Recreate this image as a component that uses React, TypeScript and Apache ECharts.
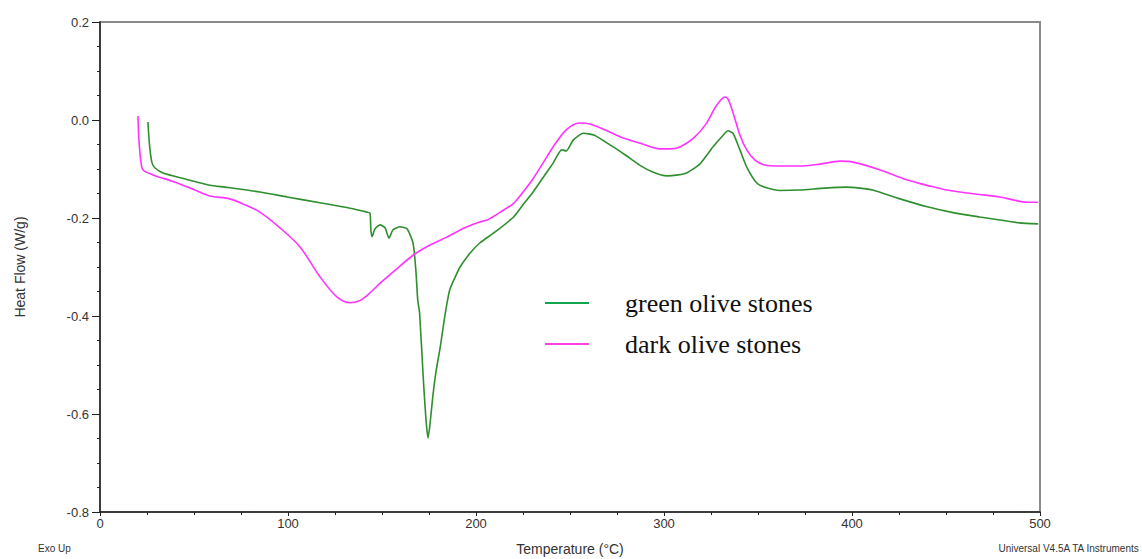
import React, { useEffect, useRef } from "react";
import * as echarts from "echarts";

const greenName = "green olive stones";
const pinkName = "dark olive stones";

const greenTemp = [25.5, 25.8, 26.6, 27.7, 29.3, 33.5, 45, 58.5, 66.5, 85, 99.5, 117, 133, 142, 143.6, 144.1, 144.7, 146.3, 149, 151.6, 153.7, 155.9, 159.6, 163.3, 166.5, 168, 169, 170, 172, 173.4, 174.5, 175.5, 177, 178.7, 181, 183.5, 186, 189, 191.5, 197, 202, 210, 220, 225, 230, 235.6, 241, 245.6, 248, 251.7, 257, 263, 273, 280, 287, 294, 301.5, 307.5, 312, 319, 326, 331, 334, 336.7, 340.4, 344, 349.5, 355, 361.7, 372, 385.6, 397, 404, 411, 425.5, 440, 455, 468, 478.7, 489, 499];
const greenHF = [-0.004, -0.024, -0.061, -0.088, -0.098, -0.108, -0.12, -0.133, -0.137, -0.147, -0.157, -0.169, -0.18, -0.188, -0.19, -0.225, -0.238, -0.222, -0.214, -0.22, -0.241, -0.224, -0.218, -0.222, -0.251, -0.306, -0.367, -0.394, -0.53, -0.612, -0.649, -0.622, -0.565, -0.514, -0.463, -0.398, -0.347, -0.32, -0.3, -0.271, -0.251, -0.229, -0.198, -0.173, -0.149, -0.118, -0.088, -0.061, -0.063, -0.041, -0.027, -0.031, -0.055, -0.073, -0.092, -0.106, -0.114, -0.112, -0.108, -0.09, -0.055, -0.033, -0.022, -0.027, -0.061, -0.096, -0.129, -0.139, -0.144, -0.143, -0.139, -0.137, -0.139, -0.143, -0.161, -0.177, -0.19, -0.198, -0.204, -0.21, -0.212];

const pinkTemp = [20.2, 20.7, 21.8, 22.9, 28.2, 40, 50.5, 58.5, 69, 77, 85, 95.7, 106.4, 117, 126, 133, 138, 143.6, 149, 156, 166.5, 175.5, 184.5, 194, 202, 206, 213, 220, 225, 230, 235.6, 241, 248, 255, 260.6, 268.6, 276.6, 287, 298, 303, 308.5, 315.7, 322, 328, 332.4, 334, 336.8, 340.4, 344, 348.4, 353.7, 361.7, 372, 383, 393.6, 400.5, 415, 429, 441.5, 450.5, 465.4, 478.7, 485.6, 493, 499];
const pinkHF = [0.008, -0.041, -0.086, -0.102, -0.112, -0.127, -0.143, -0.155, -0.161, -0.173, -0.188, -0.22, -0.259, -0.32, -0.361, -0.373, -0.369, -0.353, -0.333, -0.31, -0.276, -0.255, -0.239, -0.22, -0.208, -0.204, -0.188, -0.17, -0.147, -0.122, -0.088, -0.055, -0.02, -0.006, -0.008, -0.02, -0.034, -0.047, -0.059, -0.059, -0.055, -0.037, -0.01, 0.03, 0.047, 0.043, 0.014, -0.031, -0.061, -0.082, -0.092, -0.094, -0.094, -0.09, -0.084, -0.086, -0.102, -0.122, -0.135, -0.143, -0.151, -0.157, -0.163, -0.168, -0.168];

const xTicks = { min: 0, max: 500, interval: 100 };
const yTicks = { min: -0.8, max: 0.2, interval: 0.2 };

const greenColor = "#2f8f2f";
const pinkColor = "#ff33ff";

export default function App() {
  const ref = useRef<HTMLDivElement>(null);
  useEffect(() => {
    if (!ref.current) return;
    const chart = echarts.init(ref.current, null, { renderer: "svg" });
    const axisText = { color: "#333", fontFamily: "Liberation Sans, Arial, sans-serif", fontSize: 12 };
    chart.setOption({
      animation: false,
      backgroundColor: "#fff",
      grid: {
        left: 100,
        right: 102,
        top: 22,
        bottom: 47,
        containLabel: false,
        outerBoundsMode: "none",
        show: true,
        borderColor: "#8a8a8a",
        borderWidth: 2,
        backgroundColor: "transparent",
      },
      legend: {
        orient: "vertical",
        left: 540,
        top: 285,
        itemWidth: 44,
        itemHeight: 2,
        itemGap: 15,
        icon: "rect",
        textStyle: {
          fontFamily: "Liberation Serif, serif",
          fontSize: 26,
          color: "#111",
          padding: [0, 0, 0, 31],
        },
        data: [
          { name: greenName, itemStyle: { color: "#12a550" } },
          { name: pinkName, itemStyle: { color: "#ff40e0" } },
        ],
      },
      xAxis: {
        type: "value",
        min: xTicks.min,
        max: xTicks.max,
        interval: xTicks.interval,
        name: "Temperature (°C)",
        nameLocation: "middle",
        nameGap: 30,
        nameTextStyle: { ...axisText, fontSize: 14 },
        axisLine: { onZero: false, lineStyle: { color: "#222", width: 1.5 } },
        axisTick: { length: 4, lineStyle: { color: "#222" } },
        minorTick: { show: true, splitNumber: 4, length: 3, lineStyle: { color: "#222" } },
        splitLine: { show: false },
        axisLabel: { ...axisText, fontSize: 13, margin: 5 },
      },
      yAxis: {
        type: "value",
        min: yTicks.min,
        max: yTicks.max,
        interval: yTicks.interval,
        name: "Heat Flow (W/g)",
        nameLocation: "middle",
        nameGap: 73,
        nameTextStyle: { ...axisText, fontSize: 14 },
        axisLine: { onZero: false, lineStyle: { color: "#222", width: 1.5 } },
        axisTick: { length: 8, lineStyle: { color: "#222" } },
        minorTick: { show: true, splitNumber: 4, length: 3, lineStyle: { color: "#222" } },
        splitLine: { show: false },
        axisLabel: { ...axisText, fontSize: 13, margin: 11, formatter: (v: number) => v.toFixed(1) },
      },
      graphic: [
        {
          type: "text",
          left: 38,
          top: 543,
          style: { text: "Exo Up", fontSize: 10, fill: "#333", fontFamily: "Liberation Sans, Arial, sans-serif" },
        },
        {
          type: "text",
          right: 2,
          top: 543,
          style: { text: "Universal V4.5A TA Instruments", fontSize: 10, fill: "#333", fontFamily: "Liberation Sans, Arial, sans-serif" },
        },
      ],
      series: [
        {
          name: greenName,
          type: "line",
          showSymbol: false,
          symbol: "none",
          smooth: 0.2,
          data: greenTemp.map((t, i) => [t, greenHF[i]]),
          lineStyle: { color: greenColor, width: 1.6 },
          itemStyle: { color: greenColor },
        },
        {
          name: pinkName,
          type: "line",
          showSymbol: false,
          symbol: "none",
          smooth: 0.3,
          data: pinkTemp.map((t, i) => [t, pinkHF[i]]),
          lineStyle: { color: pinkColor, width: 1.6 },
          itemStyle: { color: pinkColor },
        },
      ],
    });
    return () => chart.dispose();
  }, []);
  return (
    <div
      ref={ref}
      style={{ position: "fixed", left: 0, top: 0, width: 1142, height: 559, background: "#fff" }}
    />
  );
}
